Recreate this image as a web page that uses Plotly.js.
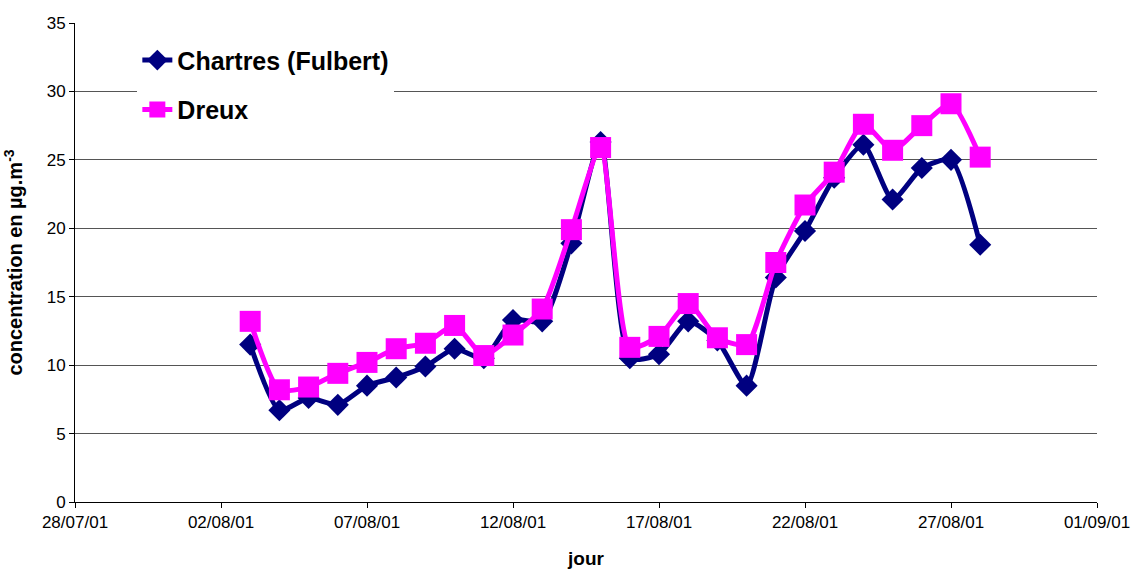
<!DOCTYPE html>
<html>
<head>
<meta charset="utf-8">
<script src="https://cdn.plot.ly/plotly-3.0.1.min.js"></script>
<style>
  html, body { margin: 0; padding: 0; background: #fff; }
  #chart { width: 1132px; height: 569px; }
</style>
</head>
<body>
<div id="chart"></div>
<script>
// jours de mesure (03/08/01 -> 28/08/01)
var days = ['2001-08-03', '2001-08-04', '2001-08-05', '2001-08-06', '2001-08-07', '2001-08-08',
  '2001-08-09', '2001-08-10', '2001-08-11', '2001-08-12', '2001-08-13', '2001-08-14',
  '2001-08-15', '2001-08-16', '2001-08-17', '2001-08-18', '2001-08-19', '2001-08-20',
  '2001-08-21', '2001-08-22', '2001-08-23', '2001-08-24', '2001-08-25', '2001-08-26',
  '2001-08-27', '2001-08-28'];

var chartres = [11.5, 6.7, 7.6, 7.1, 8.5, 9.1, 9.9, 11.2, 10.5, 13.3, 13.2, 18.9,
  26.3, 10.5, 10.8, 13.2, 11.8, 8.5, 16.4, 19.8, 23.7, 26.1, 22.1, 24.4, 25.0, 18.8];

var dreux = [13.2, 8.2, 8.4, 9.4, 10.2, 11.2, 11.6, 12.9, 10.7, 12.2, 14.1, 19.9,
  25.9, 11.3, 12.1, 14.5, 12.0, 11.5, 17.5, 21.7, 24.1, 27.6, 25.7, 27.5, 29.1, 25.2];

function initChart() {
  var trChartres = {
    x: days, y: chartres, name: 'Chartres (Fulbert)', mode: 'lines+markers',
    legendgroup: 'a',
    line: {color: '#000080', width: 5, shape: 'spline', smoothing: 0.6},
    marker: {symbol: 'diamond', size: 17, color: '#000080'}
  };
  var trDreux = {
    x: days, y: dreux, name: 'Dreux', mode: 'lines+markers',
    legendgroup: 'b',
    line: {color: '#FF00FF', width: 5, shape: 'spline', smoothing: 0.6},
    marker: {symbol: 'square', size: 21, color: '#FF00FF'}
  };

  var layout = {
    width: 1132, height: 569,
    margin: {l: 75, r: 35, t: 23, b: 67},
    paper_bgcolor: '#fff', plot_bgcolor: '#fff',
    font: {family: 'Arial, "Liberation Sans", sans-serif', size: 17, color: '#000'},
    showlegend: true,
    legend: {
      x: 0.061, y: 0.97, xanchor: 'left', yanchor: 'top',
      bgcolor: '#fff', borderwidth: 0,
      font: {size: 25, color: '#000', weight: 'bold'},
      traceorder: 'grouped', tracegroupgap: 14
    },
    xaxis: {
      type: 'date',
      range: ['2001-07-28', '2001-09-01'],
      tick0: '2001-07-28', dtick: 5 * 86400000,
      tickformat: '%d/%m/%y',
      showgrid: false, zeroline: false,
      showline: true, linecolor: '#000', linewidth: 1,
      ticks: 'outside', ticklen: 5, tickcolor: '#000',
      tickfont: {size: 17},
      title: {text: 'jour', font: {size: 19, weight: 'bold'}, standoff: 24}
    },
    yaxis: {
      range: [0, 35], dtick: 5,
      showgrid: true, gridcolor: '#555', gridwidth: 1,
      zeroline: false,
      showline: true, linecolor: '#000', linewidth: 1,
      ticks: 'outside', ticklen: 5, tickcolor: '#000',
      tickfont: {size: 17},
      title: {text: 'concentration en µg.m<sup>-3</sup>', font: {size: 20, weight: 'bold'}, standoff: 18}
    }
  };

  Plotly.newPlot(document.getElementById('chart'), [trChartres, trDreux], layout, {staticPlot: true});
}

initChart();
</script>
</body>
</html>
